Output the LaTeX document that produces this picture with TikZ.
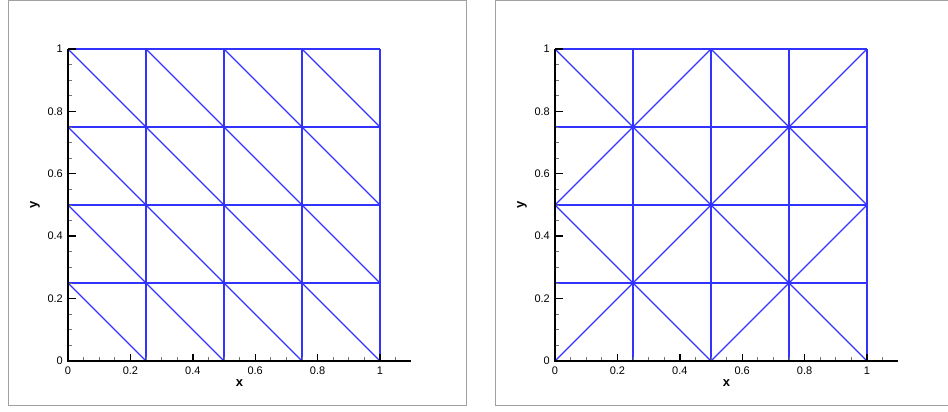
\documentclass[tikz,border=0pt]{standalone}
\usepackage{fontspec}
\setmainfont{Liberation Sans}
\usetikzlibrary{positioning}
\definecolor{mBlue}{HTML}{3333FF}
\definecolor{mFrame}{HTML}{A0A0A0}
\tikzset{
  frm/.style  = {draw=mFrame, line width=1pt},
  edg/.style  = {draw=mBlue, line width=2pt},
  dg/.style   = {draw=mBlue, line width=1.3pt},
  ax/.style   = {draw=black, line width=2pt},
  tkmaj/.style = {draw=black, line width=1.4pt},
  tkmin/.style = {draw=black!55, line width=0.8pt},
  tkl/.style  = {font=\fontsize{11}{13}\selectfont, inner sep=1pt},
  axl/.style  = {font=\fontsize{13}{15}\selectfont\bfseries, inner sep=1pt},
}

\begin{document}
\begin{tikzpicture}[x=1pt, y=1pt]
  \useasboundingbox (0,0) rectangle (948,412);
  % panel frames
  \draw[frm] (8.5,6.5) rectangle (466.5,411.5);
  \draw[frm] (948,411.5) -| (495.5,6.5) -- (948,6.5);
  % left: all diagonals one way
  \begin{scope}[shift={(68,51)}, x=312pt, y=312pt]
    \foreach \k in {0,...,4} {
      \draw[edg] (\k/4,0) -- (\k/4,1);
      \draw[edg] (0,\k/4) -- (1,\k/4);
    }
    \foreach \i in {0,...,3}
      \foreach \j in {0,...,3}
        \draw[dg] (\i/4,{(\j+1)/4}) -- ({(\i+1)/4},\j/4);
  \end{scope}
  % right: alternating diagonals
  \begin{scope}[shift={(555,51)}, x=312pt, y=312pt]
    \foreach \k in {0,...,4} {
      \draw[edg] (\k/4,0) -- (\k/4,1);
      \draw[edg] (0,\k/4) -- (1,\k/4);
    }
    \foreach \i in {0,...,3}
      \foreach \j in {0,...,3} {
        \pgfmathtruncatemacro\s{mod(\i+\j,2)}
        \draw[dg] (\i/4,{(\j+\s)/4}) -- ({(\i+1)/4},{(\j+1-\s)/4});
      }
  \end{scope}
  % axes, same for both panels
  \foreach \p/\ox in {a/68,b/555} {
    \begin{scope}[shift={(\ox,51)}, x=312pt, y=312pt]
      \foreach \i in {1,...,21}
        \draw[tkmin] (\i*0.05,0) -- ++(0,4pt);
      \foreach \i in {1,...,19}
        \draw[tkmin] (0,\i*0.05) -- ++(4pt,0);
      \draw[ax] (0,1) -- (0,0) -- (1.1,0);
      \foreach \v/\t in {0/0,0.2/0.2,0.4/0.4,0.6/0.6,0.8/0.8,1/1} {
        \draw[tkmaj] (\v,0) -- ++(0,7pt);
        \draw[tkmaj] (0,\v) -- ++(8pt,0);
        \node[tkl, anchor=north, yshift=-5pt] (xt-\p-\t) at (\v,0) {\t};
        \node[tkl, anchor=east, xshift=-4pt] (yt-\p-\t) at (0,\v) {\t};
      }
      \node[axl, yshift=-22pt] (xl-\p) at (0.55,0) {x};
      \node[axl, xshift=-33pt, rotate=90] (yl-\p) at (0,0.5) {y};
    \end{scope}
  }
\end{tikzpicture}
\end{document}
